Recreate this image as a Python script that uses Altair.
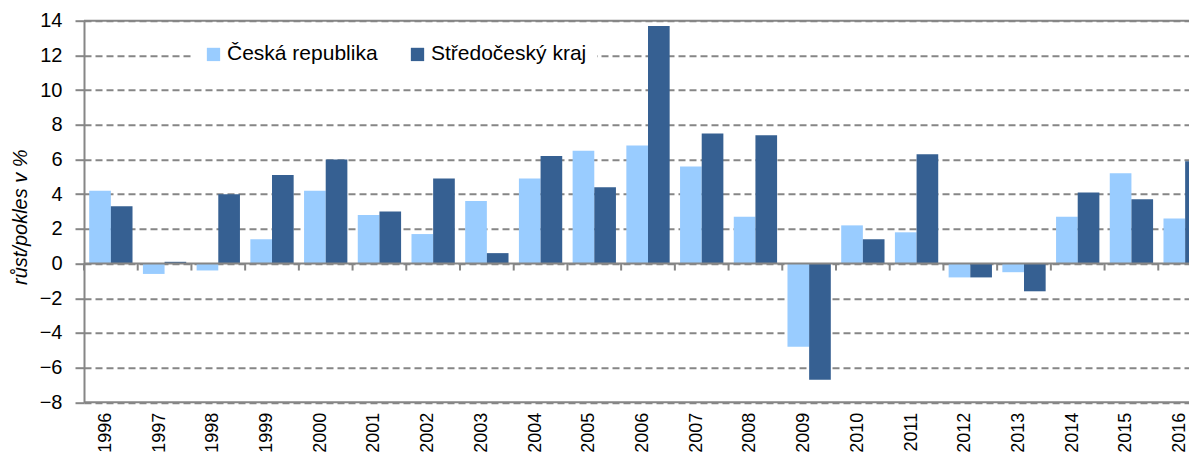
import altair as alt
import pandas as pd

years = ["1996", "1997", "1998", "1999", "2000", "2001", "2002", "2003", "2004", "2005", "2006",
         "2007", "2008", "2009", "2010", "2011", "2012", "2013", "2014", "2015", "2016"]
ceska_republika = [4.2, -0.6, -0.4, 1.4, 4.2, 2.8, 1.7, 3.6, 4.9, 6.5, 6.8,
                   5.6, 2.7, -4.8, 2.2, 1.8, -0.8, -0.5, 2.7, 5.2, 2.6]
stredocesky_kraj = [3.3, 0.1, 4.0, 5.1, 6.0, 3.0, 4.9, 0.6, 6.2, 4.4, 13.7,
                    7.5, 7.4, -6.7, 1.4, 6.3, -0.8, -1.6, 4.1, 3.7, 5.9]
series_names = ["Česká republika", "Středočeský kraj"]
series_colors = ["#99CCFF", "#366092"]
y_ticks = [-8, -6, -4, -2, 0, 2, 4, 6, 8, 10, 12, 14]
frame_values = [14, -8]
zero_value = [0]

rows = []
for i, yr in enumerate(years):
    rows.append({"rok": yr, "rada": series_names[0], "hodnota": ceska_republika[i]})
    rows.append({"rok": yr, "rada": series_names[1], "hodnota": stredocesky_kraj[i]})
df = pd.DataFrame(rows)
frame_df = pd.DataFrame({"hodnota": frame_values})
zero_df = pd.DataFrame({"hodnota": zero_value})
tick_df = pd.DataFrame({"rok": years, "hodnota": [0] * len(years)})

FONT = "Liberation Sans"
GRAY = "#868686"

x_scale = alt.Scale(domain=years, range=[0, 1128], paddingInner=0, paddingOuter=0)
y_scale = alt.Scale(domain=[-8, 14], nice=False, zero=False)

x_axis = alt.Axis(
    title=None, labelAngle=270, labelAlign="right", labelBaseline="middle",
    labelFont=FONT, labelFontSize=18, labelColor="#000000", labelPadding=10,
    labelOffset=-5,
    ticks=False, tickSize=0, domain=False, grid=False,
)
y_axis = alt.Axis(
    values=y_ticks, title="růst/pokles v %", titleFont=FONT, titleFontSize=20,
    titleFontStyle="italic", titleFontWeight="normal", titleColor="#000000",
    titleAngle=270, titleAlign="center", titleBaseline="middle", titleX=-64, titleY=196,
    labelFont=FONT, labelFontSize=20, labelColor="#000000", labelPadding=13, labelFlush=False,
    grid=True, gridColor=GRAY, gridDash=[7, 4], gridWidth=2,
    domain=True, domainColor=GRAY, domainWidth=2,
    ticks=True, tickColor=GRAY, tickWidth=2, tickSize=9,
)

X = alt.X("rok:N", scale=x_scale, sort=years, axis=x_axis)
Y = alt.Y("hodnota:Q", scale=y_scale, axis=y_axis)

bars = alt.Chart(df).mark_bar().encode(
    x=X,
    xOffset=alt.XOffset("rada:N", sort=series_names,
                        scale=alt.Scale(domain=series_names, paddingOuter=0.24, paddingInner=0)),
    y=Y,
    color=alt.Color("rada:N", scale=alt.Scale(domain=series_names, range=series_colors),
                    legend=alt.Legend(
                        title=None, orient="none", legendX=109, legendY=13,
                        direction="horizontal", fillColor="#ffffff", padding=10,
                        symbolType="square", symbolSize=177, symbolStrokeWidth=0,
                        symbolOpacity=1, labelFont=FONT, labelFontSize=21,
                        labelColor="#000000", labelOffset=3, columnPadding=29,
                    )),
)

frame = alt.Chart(frame_df).mark_rule(color=GRAY, strokeWidth=2).encode(y=Y)
zero_line = alt.Chart(zero_df).mark_rule(color=GRAY, strokeWidth=2).encode(y=Y)
zero_ticks = alt.Chart(tick_df).mark_rule(color=GRAY, strokeWidth=2, y2Offset=7).encode(
    x=alt.X("rok:N", scale=x_scale, sort=years, axis=x_axis, bandPosition=0),
    y=Y,
    y2=alt.Y2("hodnota"),
)

chart = alt.layer(bars, frame, zero_line, zero_ticks).properties(
    width=1105,
    height=381.6,
    padding={"left": 76, "top": 12.7, "right": 0, "bottom": 50.7},
    autosize=alt.AutoSizeParams(type="none"),
).configure_view(strokeWidth=0)

chart.save("out.html", embed_options={"renderer": "svg", "actions": False})
